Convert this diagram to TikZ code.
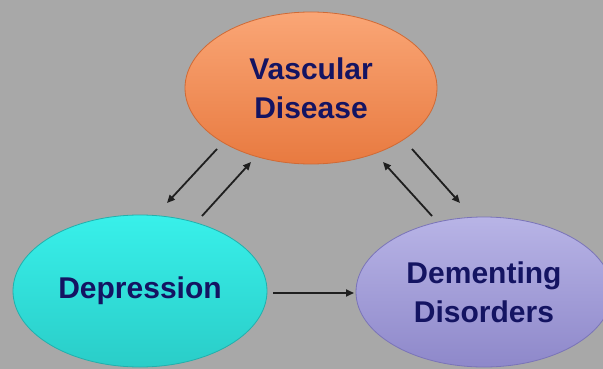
\documentclass[tikz,border=0pt]{standalone}
\usepackage{fontspec}
\setmainfont{Liberation Sans}
\usetikzlibrary{shapes.geometric,calc,arrows.meta}
\definecolor{bg}{HTML}{A8A8A8}
\definecolor{txt}{HTML}{141462}
\definecolor{orTop}{HTML}{FAA676}
\definecolor{orBot}{HTML}{E87A40}
\definecolor{orEdge}{HTML}{D06A35}
\definecolor{cyTop}{HTML}{38F0EA}
\definecolor{cyBot}{HTML}{2ACDC8}
\definecolor{cyEdge}{HTML}{22B0AC}
\definecolor{puTop}{HTML}{B8B4E6}
\definecolor{puBot}{HTML}{8E88CA}
\definecolor{puEdge}{HTML}{7A74B8}
\tikzset{
  blob/.style={ellipse, inner sep=0pt, line width=0.8pt, align=center,
    text=txt, font=\fontsize{30}{39}\selectfont\bfseries},
  arr/.style={-{Triangle[length=8pt,width=7pt]}, line width=1.8pt, draw=black!88}
}
\begin{document}
\begin{tikzpicture}[x=1pt,y=-1pt]
\fill[bg] (0,0) rectangle (603,369);
\useasboundingbox (0,0) rectangle (603,369);
\begin{scope}
\clip (0,0) rectangle (603,369);
\node[blob, minimum width=252pt, minimum height=152pt, top color=orTop, bottom color=orBot, draw=orEdge] (vas) at (311,88) {Vascular\\Disease};
\node[blob, minimum width=254pt, minimum height=152pt, top color=cyTop, bottom color=cyBot, draw=cyEdge] (dep) at (140,291) {Depression};
\node[blob, minimum width=256pt, minimum height=150pt, top color=puTop, bottom color=puBot, draw=puEdge] (dem) at (484,292) {Dementing\\Disorders};
\end{scope}
\draw[arr] ($(vas)+(-94,61)$) -- ($(dep)+(27,-88)$);
\draw[arr] ($(dep)+(62,-75)$) -- ($(vas)+(-60,74)$);
\draw[arr] ($(dem)+(-52,-76)$) -- ($(vas)+(72,74)$);
\draw[arr] ($(vas)+(101,61)$) -- ($(dem)+(-24,-89)$);
\draw[arr] ($(dep)+(133,2)$) -- ($(dem)+(-130,1)$);
\end{tikzpicture}
\end{document}
